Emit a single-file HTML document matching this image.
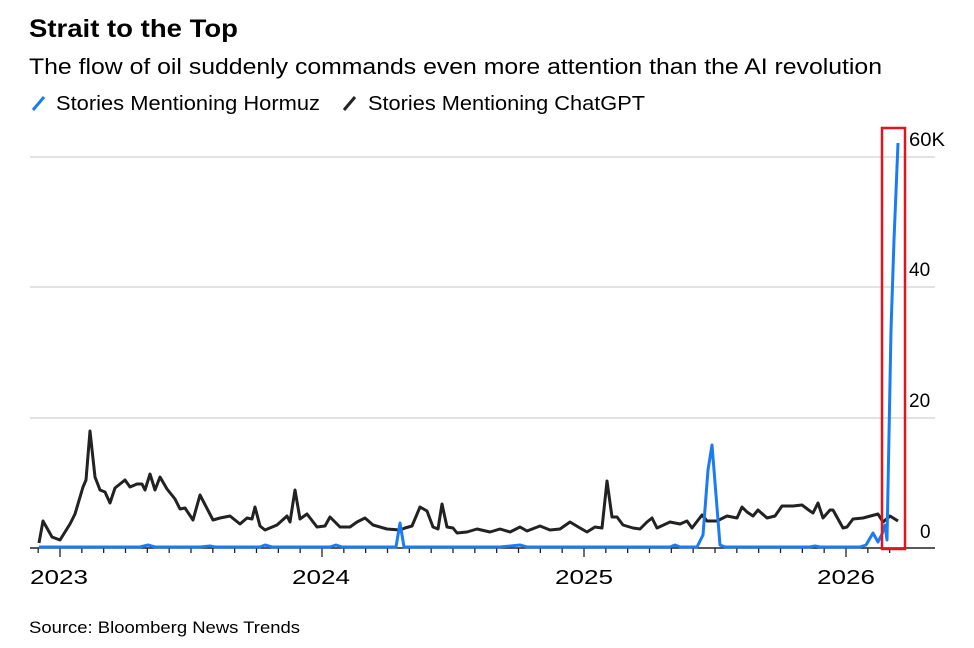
<!DOCTYPE html>
<html><head><meta charset="utf-8"><style>
body{margin:0;background:#fff;width:974px;height:648px;overflow:hidden;font-family:"Liberation Sans",Arial,sans-serif;}
svg{position:absolute;left:0;top:0}
</style></head><body>
<svg width="974" height="648" viewBox="0 0 974 648" font-family="Liberation Sans, Arial, sans-serif">
<text x="29" y="37" font-size="25" font-weight="bold" fill="#000" textLength="209" lengthAdjust="spacingAndGlyphs">Strait to the Top</text>
<text x="29" y="74" font-size="22" fill="#000" textLength="853" lengthAdjust="spacingAndGlyphs">The flow of oil suddenly commands even more attention than the AI revolution</text>
<line x1="33" y1="110" x2="44" y2="97" stroke="#1a7cf5" stroke-width="3"/>
<text x="56" y="110" font-size="20" fill="#000" textLength="264" lengthAdjust="spacingAndGlyphs">Stories Mentioning Hormuz</text>
<line x1="344" y1="110" x2="355" y2="97" stroke="#222" stroke-width="3"/>
<text x="368" y="110" font-size="20" fill="#000" textLength="277" lengthAdjust="spacingAndGlyphs">Stories Mentioning ChatGPT</text>
<g stroke="#d8d8d8" stroke-width="1.5">
<line x1="30" y1="157" x2="935" y2="157"/>
<line x1="30" y1="287" x2="935" y2="287"/>
<line x1="30" y1="418" x2="935" y2="418"/>
</g>
<g font-size="19" fill="#000">
<text x="909" y="146" textLength="36" lengthAdjust="spacingAndGlyphs">60K</text>
<text x="909" y="276">40</text>
<text x="909" y="407">20</text>
<text x="920" y="538">0</text>
</g>
<line x1="30" y1="548" x2="935" y2="548" stroke="#222" stroke-width="1.5"/>
<g stroke="#222" stroke-width="1.3" id="ticks"></g>
<g font-size="20" fill="#000" text-anchor="middle">
<text x="59" y="584" textLength="58" lengthAdjust="spacingAndGlyphs">2023</text>
<text x="321" y="584" textLength="58" lengthAdjust="spacingAndGlyphs">2024</text>
<text x="584" y="584" textLength="58" lengthAdjust="spacingAndGlyphs">2025</text>
<text x="846" y="584" textLength="58" lengthAdjust="spacingAndGlyphs">2026</text>
</g>
<polyline fill="none" stroke="#222" stroke-width="3" stroke-linejoin="round" points="39,543 43,521 52,537 60,540 70,524 75,514 83,487 86,480 90,431 95,477 100,490 105,492 110,503 115,488 125,480 130,487 137,484 142,484 145,490 150,474 155,490 160,477 167,489 175,499 180,509 185,508 193,520 200,495 213,520 220,518 230,516 240,524 247,518 252,519 255,507 260,526 265,530 277,525 287,516 290,522 295,490 300,519 307,514 317,527 325,526 330,517 340,527 350,527 357,522 365,518 373,525 387,529 400,530 405,528 412,526 420,507 427,511 433,527 438,529 442,504 447,527 453,528 457,533 467,532 477,529 490,532 500,529 510,532 520,527 527,531 540,526 550,530 560,529 570,522 580,528 587,532 595,527 602,528 607,481 612,517 617,517 623,525 633,528 640,529 647,522 652,518 657,528 670,522 680,524 687,521 692,528 702,515 707,521 717,521 727,516 737,518 742,507 747,512 753,516 758,510 767,518 775,516 782,506 793,506 802,505 810,511 813,513 818,503 823,518 830,510 833,510 843,528 847,527 853,519 863,518 878,514 883,522 890,516 898,521"/>
<polyline fill="none" stroke="#1a7cf5" stroke-width="3" stroke-linejoin="round" points="39,547 100,547 140,547 148,545 155,547 200,547 210,546 215,547 260,547 265,545 272,547 330,547 336,545 342,547 396,547 400,523 404,547 420,547 500,547 520,545 527,547 560,547 670,547 675,545 680,547 697,547 703,535 708,470 712,445 716,495 720,545 725,547 810,547 815,546 820,547 860,547 866,545 873,533 878,542 882,534 885,525 887,540 891,330 894,240 898,143"/>
<rect x="882" y="128" width="23" height="421" fill="none" stroke="#e0161e" stroke-width="2.5"/>
<text x="29" y="633" font-size="17" fill="#000" textLength="271" lengthAdjust="spacingAndGlyphs">Source: Bloomberg News Trends</text>
</svg>
<script>
var g=document.getElementById('ticks'),s='';
for(var i=-1;i<41;i++){var x=60+i*262/12;if(x<32||x>905)continue;var major=(i%12===0);s+='<line x1="'+x+'" y1="548" x2="'+x+'" y2="'+(major?557:553)+'"/>';}
g.innerHTML=s;
</script>
</body></html>
